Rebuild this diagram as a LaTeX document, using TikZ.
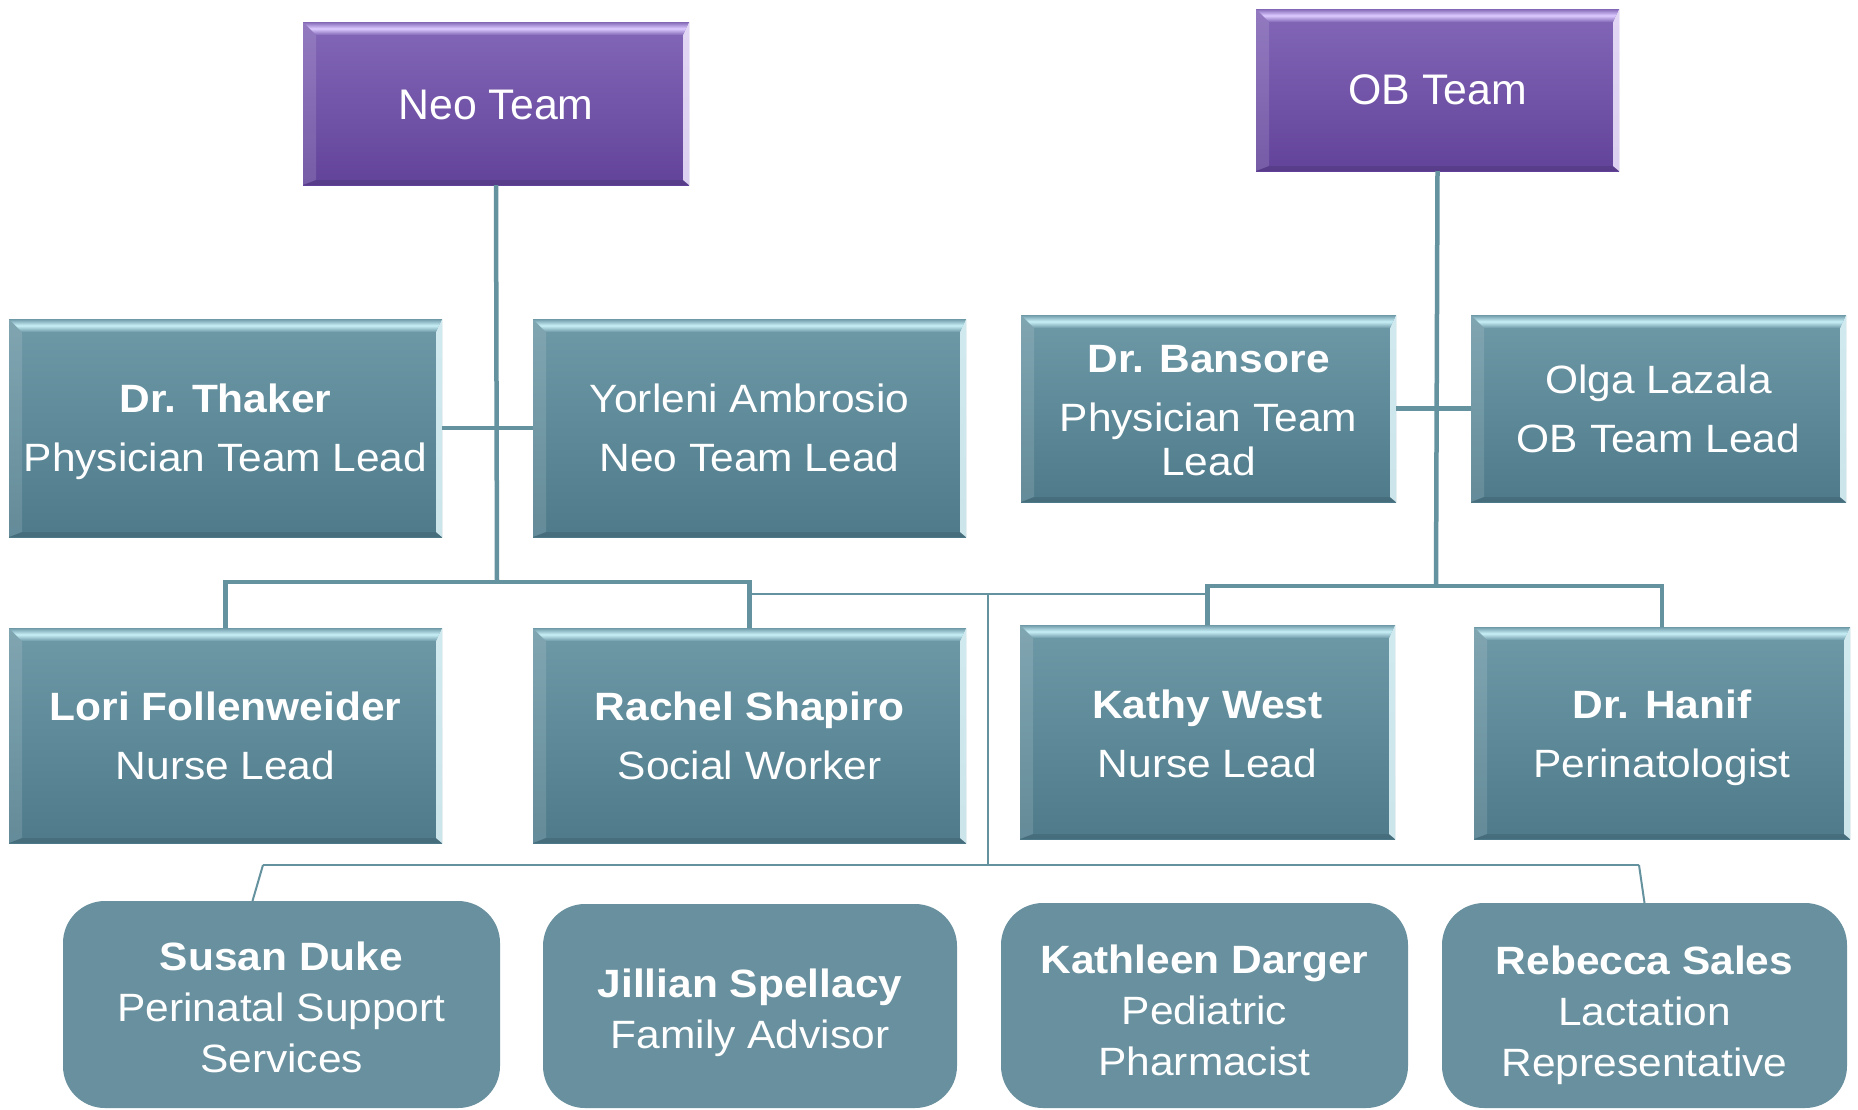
\documentclass[tikz,border=0pt]{standalone}
\usepackage{fontspec}
\setmainfont{Liberation Sans}
\newfontfamily\mfont[FakeStretch=1.075]{Liberation Sans}
\newcommand\dn[1]{\rule{0pt}{\dimexpr 29pt+#1pt*2\relax}}
\definecolor{purTop}{HTML}{8367B7}
\definecolor{purBot}{HTML}{62439A}
\definecolor{purHi}{HTML}{DCCBFF}
\definecolor{purEdge}{HTML}{F2EAFF}
\definecolor{tealTop}{HTML}{6E99A7}
\definecolor{tealBot}{HTML}{4E7A8A}
\definecolor{tealHi}{HTML}{C8F0F8}
\definecolor{tealEdge}{HTML}{E2F8FC}
\definecolor{flatTeal}{HTML}{68909E}
\definecolor{lineCol}{HTML}{65929F}
\tikzset{
  bevel/.style n args={4}{rectangle, inner sep=0pt, outer sep=0pt, text=white, align=center,
    top color=#1, bottom color=#2,
    path picture={
      \path (path picture bounding box.north west) coordinate (ppnw)
            (path picture bounding box.north east) coordinate (ppne)
            (path picture bounding box.south west) coordinate (ppsw)
            (path picture bounding box.south east) coordinate (ppse);
      \fill[white, fill opacity=0.13] (ppnw) -- ([xshift=13pt,yshift=-13pt]ppnw) -- ([xshift=13pt,yshift=5pt]ppsw) -- (ppsw) -- cycle;
      \fill[black, fill opacity=0.10] (ppsw) -- ([xshift=13pt,yshift=5pt]ppsw) -- ([xshift=-6pt,yshift=5pt]ppse) -- (ppse) -- cycle;
      \fill[#4, fill opacity=0.85] (ppne) -- ([xshift=-6pt,yshift=-13pt]ppne) -- ([xshift=-6pt,yshift=5pt]ppse) -- (ppse) -- cycle;
      \shade[top color=#1, bottom color=#1, middle color=#3] (ppnw) -- (ppne) -- ([xshift=-6pt,yshift=-13pt]ppne) -- ([xshift=13pt,yshift=-13pt]ppnw) -- cycle;
    }},
  teambox/.style={bevel={purTop}{purBot}{purHi}{purEdge}, font=\fontsize{42.8}{50}\selectfont},
  memberbox/.style={bevel={tealTop}{tealBot}{tealHi}{tealEdge}, font=\mfont\fontsize{39.5}{59}\selectfont},
  roundbox/.style={rectangle, rounded corners=42pt, fill=flatTeal, inner sep=0pt, outer sep=0pt,
    text=white, align=center, font=\mfont\fontsize{39.5}{51}\selectfont},
  mainline/.style={draw=lineCol, line width=4.5pt},
  thinline/.style={draw=lineCol, line width=2.4pt},
  diagline/.style={draw=lineCol, line width=2pt},
}
\begin{document}
\begin{tikzpicture}[x=1pt,y=-1pt]
\useasboundingbox (0,0) rectangle (1858,1109);
\fill[white] (0,0) rectangle (1858,1109);

% connector coordinates
\coordinate (neobar) at (497,582);
\coordinate (obbar) at (1436,586);
\coordinate (midbar) at (988,594);
\coordinate (botbar) at (988,865);
\coordinate (botL) at (263,865);
\coordinate (botR) at (1639,865);

% ---- connectors (drawn first, behind boxes)
\path[thinline] (749.5,594) -- (1207.5,594);
\path[thinline] (midbar) -- (botbar);
\path[diagline] (botL) -- (botR);

% ---- nodes
\node[teambox, minimum width=386pt, minimum height=163pt] (neo) at (496,103.5) {\dn{2}Neo Team};
\node[teambox, minimum width=363pt, minimum height=162pt] (ob) at (1437.5,90) {OB Team};

\node[memberbox, minimum width=433pt, minimum height=218pt] (thaker) at (225.5,428) {\dn{4}\textbf{Dr. Thaker}\\Physician Team Lead};
\node[memberbox, minimum width=433pt, minimum height=218pt] (yorleni) at (749.5,428) {Yorleni Ambrosio\\Neo Team Lead};
\node[memberbox, minimum width=375pt, minimum height=187pt, font=\mfont\fontsize{39.5}{44}\selectfont] (bansore) at (1208.5,408.5) {\dn{1}\textbf{Dr. Bansore}\\[15pt]Physician Team\\Lead};
\node[memberbox, minimum width=375pt, minimum height=187pt] (olga) at (1658.5,408.5) {Olga Lazala\\OB Team Lead};

\node[memberbox, minimum width=433pt, minimum height=215pt] (lori) at (225.5,735.5) {\textbf{Lori Follenweider}\\Nurse Lead};
\node[memberbox, minimum width=433pt, minimum height=215pt] (rachel) at (749.5,735.5) {\textbf{Rachel Shapiro}\\Social Worker};
\node[memberbox, minimum width=375pt, minimum height=214pt] (kathy) at (1207.5,732) {\dn{2}\textbf{Kathy West}\\Nurse Lead};
\node[memberbox, minimum width=376pt, minimum height=212pt] (hanif) at (1662,733) {\dn{5}\textbf{Dr. Hanif}\\Perinatologist};

\node[roundbox, minimum width=437pt, minimum height=207pt] (susan) at (281.5,1004.5) {\dn{2.5}\textbf{Susan Duke}\\Perinatal Support\\Services};
\node[roundbox, minimum width=414pt, minimum height=204pt] (jillian) at (750,1006) {\dn{7}\textbf{Jillian Spellacy}\\Family Advisor};
\node[roundbox, minimum width=407pt, minimum height=205pt] (kathleen) at (1204.5,1005.5) {\dn{5}\textbf{Kathleen Darger}\\Pediatric\\Pharmacist};
\node[roundbox, minimum width=405pt, minimum height=205pt] (rebecca) at (1644.5,1005.5) {\dn{9.5}\textbf{Rebecca Sales}\\Lactation\\Representative};

% ---- main connectors
\path[mainline] (neo.south) -- (neobar);
\path[mainline] (thaker.east) -- (yorleni.west);
\path[mainline] (lori.north) -- (lori.north |- neobar) -- (rachel.north |- neobar) -- (rachel.north);
\path[mainline] (ob.south) -- (obbar);
\path[mainline] (bansore.east) -- (olga.west);
\path[mainline] (kathy.north) -- (kathy.north |- obbar) -- (hanif.north |- obbar) -- (hanif.north);
\path[diagline] (botL) -- ([xshift=-29pt]susan.north);
\path[diagline] (botR) -- (rebecca.north);
\end{tikzpicture}
\end{document}
